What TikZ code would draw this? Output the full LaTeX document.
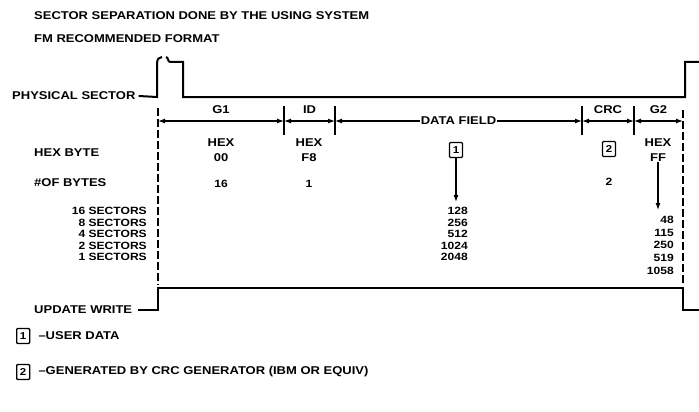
\documentclass[tikz,border=0pt]{standalone}
\usepackage{fontspec}
\setmainfont{Liberation Sans}[FakeStretch=1.15]
\usetikzlibrary{arrows.meta,positioning,calc}

\begin{document}
\begin{tikzpicture}[
  x=1pt, y=-1pt,
  lbl/.style={font=\fontsize{11.3}{15}\selectfont\bfseries, inner sep=0pt, align=center},
  num/.style={font=\fontsize{10.5}{12}\selectfont\bfseries, inner sep=0pt},
  tag/.style={draw, line width=1.3pt, rounded corners=1pt, minimum width=13pt, minimum height=15pt,
    inner sep=0pt, font=\fontsize{10}{10}\selectfont\bfseries},
  sig/.style={line width=2pt},
  guide/.style={line width=1.3pt, dash pattern=on 8pt off 3pt},
  tick/.style={line width=1.3pt},
  dim/.style={{Latex[length=7pt,width=5pt]}-{Latex[length=7pt,width=5pt]}, line width=1.2pt},
  arrow/.style={-{Latex[length=7pt,width=5pt]}, line width=1.2pt}
]
\useasboundingbox (0,0) rectangle (699,412);

% heading
\node[lbl, anchor=west] (title) at (34,16) {SECTOR SEPARATION DONE BY THE USING SYSTEM};
\node[lbl, anchor=west] (fmt) at (34,39) {FM RECOMMENDED FORMAT};

% row labels
\node[lbl, anchor=west] (phys) at (12,96) {PHYSICAL SECTOR};
\node[lbl, anchor=west] (hexbyte) at (34,153) {HEX BYTE};
\node[lbl, anchor=west] (nbytes) at (34,183) {\#OF BYTES};
\node[lbl, anchor=west] (upd) at (34,310) {UPDATE WRITE};

% physical sector signal
\draw[sig] ([xshift=3pt]phys.east) -- (157,97) -- (157,64)
  .. controls (157,59) and (159,57) .. (162,57);
\draw[sig] (166,57) .. controls (168,57) and (168,62) .. (170,62) -- (183,62) -- (183,97)
  -- (685,97) -- (685,62) -- (699,62);

% field boundaries
\coordinate (b0) at (158,121);
\coordinate (b1) at (284,121);
\coordinate (b2) at (335,121);
\coordinate (b3) at (582,121);
\coordinate (b4) at (634,121);
\coordinate (b5) at (683,121);

\draw[guide] ([yshift=13pt]b0) -- ([yshift=-164pt]b0);
\draw[guide] ([yshift=11pt]b5) -- ([yshift=-164pt]b5);
\foreach \b in {b1,b2,b3,b4}
  \draw[tick] ([yshift=15pt]\b) -- ([yshift=-14pt]\b);

\draw[dim] (b0) -- (b1) node[lbl, midway, above=7pt] (g1) {G1};
\draw[dim] (b1) -- (b2) node[lbl, midway, above=7pt] (id) {ID};
\node[lbl, fill=white, inner xsep=1pt] (dfield) at ($(b2)!0.5!(b3)$) {DATA FIELD};
\draw[arrow] (dfield) -- (b2);
\draw[arrow] (dfield) -- (b3);
\draw[dim] (b3) -- (b4) node[lbl, midway, above=7pt] (crc) {CRC};
\draw[dim] (b4) -- (b5) node[lbl, midway, above=7pt] (g2) {G2};

% hex bytes
\node[lbl] (hexg1) at (221,150) {HEX\\00};
\node[lbl] (hexid) at (309,150) {HEX\\F8};
\node[tag] (tag1) at (456,150) {1};
\node[tag] (tag2) at (609,149) {2};
\node[lbl] (hexg2) at (658,150) {HEX\\FF};

% byte counts
\node[num] (n16) at (221,184) {16};
\node[num] (n1) at (309,184) {1};
\node[num] (n2) at (609,182) {2};

% sector rows
\foreach \s/\d [count=\i from 0] in {16/128, 8/256, 4/512, 2/1024, 1/2048} {
  \node[num, anchor=east] (sec\i) at (147,211+11.5*\i) {\s{} SECTORS};
  \node[num, anchor=east] (dat\i) at (468,211+11.5*\i) {\d};
}
\foreach \g [count=\i from 0] in {48, 115, 250, 519, 1058}
  \node[num, anchor=east] (gap\i) at (674,220+12.6*\i) {\g};

\draw[arrow] (tag1) -- ([yshift=5pt]dat0.north -| tag1);
\draw[arrow] (hexg2) -- ([yshift=6pt]gap0.north -| hexg2);

% update write signal
\draw[sig] ([xshift=6pt]upd.east) -- (158,310) -- (158,288) -- (683,288) -- (683,310) -- (699,310);

% legend
\node[tag, anchor=west] (key1) at (16,336) {1};
\node[lbl, anchor=west, right=8pt of key1] (keytxt1) {--USER DATA};
\node[tag, anchor=west] (key2) at (16,372) {2};
\node[lbl, anchor=west, right=8pt of key2] (keytxt2) {--GENERATED BY CRC GENERATOR (IBM OR EQUIV)};
\end{tikzpicture}
\end{document}
